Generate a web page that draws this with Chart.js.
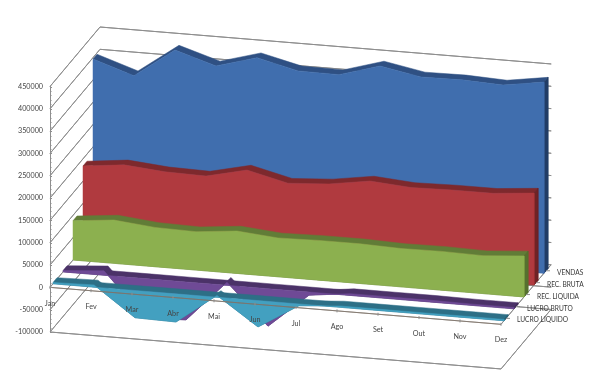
<!DOCTYPE html>
<html><head><meta charset="utf-8">
<style>html,body{margin:0;padding:0;background:#fff}canvas{display:block}</style>
<script src="https://cdn.jsdelivr.net/npm/chart.js@4"></script>
</head><body><canvas id="c" width="600" height="374"></canvas>
<script>
const months = ['Jan','Fev','Mar','Abr','Mai','Jun','Jul','Ago','Set','Out','Nov','Dez'];
const seriesNames = ['VENDAS','REC. BRUTA','REC. LIQUIDA','LUCRO BRUTO','LUCRO LIQUIDO'];
const vendas      = [397000,367000,432000,404000,430000,408000,407000,434000,417000,418000,414000,428000];
const recBruta    = [184000,194000,186000,184000,205000,183000,189000,203000,196000,198000,198000,206000];
const recLiquida  = [88000,97000,88000,86000,95000,87000,89000,89000,86000,87000,85000,92000];
const lucroBruto  = [3000,10000,-88000,-85000,7000,-84000,-7000,4000,4000,4000,3000,3000];
const lucroLiquido= [3000,5000,-61000,-63000,4000,-59000,-4000,3000,3000,3000,3000,3000];
const yMin=-100000, yMax=450000, yStep=50000, yMinorStep=10000;

// oblique projection of the 3D box onto the flat x/y scales
const DX=50/41, DY=133290, SLOPE=7527, THICK=0.08;
const px=(i,t)=>i+t*DX;
const py=(v,i,t)=>v-i*SLOPE+t*DY;
const P=(i,v,t)=>({x:px(i,t),y:py(v,i,t)});
const last=months.length-1, idx=months.map((_,i)=>i);

const styles=[
 {vals:vendas,t:.86,face:'#406eae',top:'#2f5083',side:'#213c66'},
 {vals:recBruta,t:.66,face:'#b03a3f',top:'#7d292d',side:'#6e2326'},
 {vals:recLiquida,t:.46,face:'#8cb04f',top:'#617c37',side:'#56702f'},
 {vals:lucroBruto,t:.26,face:'#6f4a96',top:'#4b3268',side:'#412b5a'},
 {vals:lucroLiquido,t:.06,face:'#43a0c0',top:'#2d6f86',side:'#265f73'}
];
const GRID='#8e8e8e';
const marks=[];
const line=(pts,c,w)=>marks.push({data:[...pts,pts[0]],borderColor:c,borderWidth:w||1});
const poly=(pts,c)=>marks.push({data:[...pts,pts[0]],polyFill:c,borderColor:c,borderWidth:.5});

// walls
const ticksV=[];for(let v=yMin;v<=yMax;v+=yStep)ticksV.push(v);
ticksV.forEach(v=>{
  line([P(0,v,0),P(0,v,1)],GRID);
  line([P(0,v,1),P(last,v,1)],GRID);
  line([P(last,v,1),P(last+.02,v,1)],GRID);
});
line([P(0,yMin,0),P(last,yMin,0)],GRID);
line([P(last,yMin,0),P(last,yMin,1)],GRID);
line([P(last,0,0),P(last,0,1)],GRID);

// series slabs, back to front
styles.forEach(s=>{
  const T=s.t,B=s.t+THICK,V=s.vals;
  poly([...idx.map(i=>P(i,0,T)),...idx.slice().reverse().map(i=>P(i,0,B))],s.top);
  poly([...idx.map(i=>P(i,V[i],T)),...idx.slice().reverse().map(i=>P(i,V[i],B))],s.top);
  poly([P(last,0,T),P(last,V[last],T),P(last,V[last],B),P(last,0,B)],s.side);
  poly([...idx.map(i=>P(i,V[i],T)),...idx.slice().reverse().map(i=>P(i,0,T))],s.face);
});
// horizontal axis on top
line([P(0,0,0),P(last,0,0)],'rgba(125,115,105,.75)');

const datasets=marks.map((m,k)=>Object.assign(m,{order:marks.length-k,pointRadius:0,tension:0,fill:false,clip:false,parsing:true}));

const FAMILY='Lato';
const decor={id:'decor',
 beforeDatasetDraw(ch,a){
  const d=ch.data.datasets[a.index]; if(!d.polyFill) return;
  const c=ch.ctx; c.save(); c.beginPath();
  a.meta.data.forEach((p,i)=>i?c.lineTo(p.x,p.y):c.moveTo(p.x,p.y));
  c.closePath(); c.fillStyle=d.polyFill; c.fill(); c.restore();
 },
 afterDraw(ch){
  const c=ch.ctx,X=ch.scales.x,Y=ch.scales.y,sx=v=>X.getPixelForValue(v),sy=v=>Y.getPixelForValue(v);
  c.save();
  // y minor ticks
  c.strokeStyle=GRID;c.lineWidth=1;c.beginPath();
  for(let v=yMin;v<=yMax;v+=yMinorStep){const y=Math.round(sy(v))+.5;c.moveTo(50,y);c.lineTo(v%yStep===0?52:51.5,y);}
  // month ticks
  idx.forEach(i=>{const a=sx(px(i,0)),b=sy(py(0,i,0));c.moveTo(a,b-1.5);c.lineTo(a,b+1.5);});
  // depth ticks
  seriesNames.forEach((_,k)=>{const t=.1+.2*(4-k);const a=sx(px(last,t)),b=sy(py(0,last,t));c.moveTo(a,b);c.lineTo(a+4,b);});
  c.stroke();
  // labels
  c.font='7.2px '+FAMILY;c.textBaseline='middle';c.textAlign='center';c.fillStyle='#454545';
  months.forEach((m,i)=>c.fillText(m,sx(px(i,0)),sy(py(-35500,i,0))));
  c.font='6.6px '+FAMILY;c.textAlign='left';c.fillStyle='#383838';
  seriesNames.forEach((n,k)=>{const t=.1+.2*(4-k);c.fillText(n,sx(px(last,t))+11,sy(py(0,last,t))+2);});
  c.restore();
 }};

new Chart(document.getElementById('c'),{
 type:'line',
 data:{datasets},
 plugins:[decor],
 options:{
  responsive:false,animation:false,events:[],
  layout:{padding:{top:86.5,bottom:42,right:99,left:0}},
  plugins:{legend:{display:false},tooltip:{enabled:false},title:{display:false}},
  scales:{
   x:{type:'linear',display:false,min:0,max:last,grid:{display:false}},
   y:{type:'linear',min:yMin,max:yMax,position:'left',
      afterFit(s){s.width=50;},
      border:{display:true,color:GRID,width:1},
      grid:{drawOnChartArea:false,drawTicks:false},
      ticks:{stepSize:yStep,padding:7,color:'#454545',font:{family:FAMILY,size:7.2},
             callback:v=>String(v),autoSkip:false,includeBounds:true}}
  }
 }
});
</script></body></html>
